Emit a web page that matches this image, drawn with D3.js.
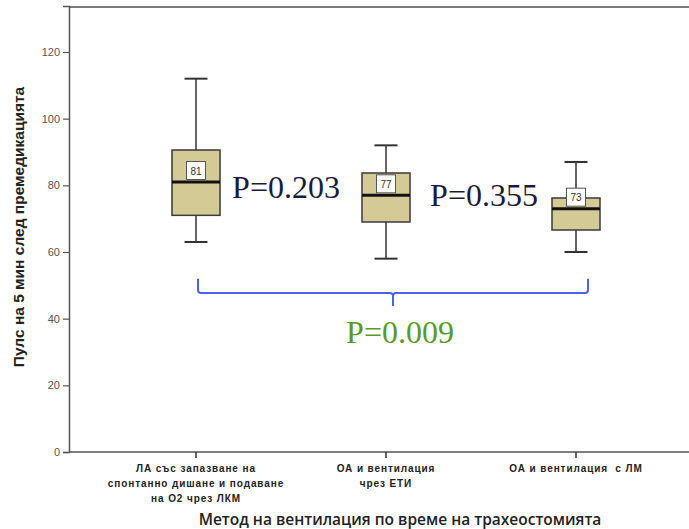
<!DOCTYPE html>
<html>
<head>
<meta charset="utf-8">
<script src="https://cdn.jsdelivr.net/npm/d3@7"></script>
<style>
  body { margin: 0; background: #fff; }
</style>
</head>
<body>
<div id="chart"></div>
<script>
// box plot values
var categories = ["g1", "g2", "g3"];
var categoryLines = [
    ["ЛА със запазване на", "спонтанно дишане и подаване", "на О2 чрез ЛКМ"],
    ["ОА и вентилация", "чрез ЕТИ"],
    ["ОА и вентилация  с ЛМ"]
];
var whiskerLow = [63, 58, 60];
var q1 = [71, 69, 66.6];
var medians = [81, 77, 73];
var q3 = [90.6, 83.7, 76.2];
var whiskerHigh = [112, 92, 87];
var yTicks = [0, 20, 40, 60, 80, 100, 120];
var pValues = ["P=0.203", "P=0.355", "P=0.009"];

var W = 689, H = 529;
var margin = {left: 69, top: 6, right: 0, bottom: 77};

var svg = d3.select("#chart").append("svg")
    .attr("width", W)
    .attr("height", H);

var x = d3.scaleBand()
    .domain(categories)
    .range([101, 671])
    .padding(0);

var y = d3.scaleLinear()
    .domain([0, 133.8])
    .range([H - margin.bottom, margin.top]);

var bw = 48, capW = 23;

// frame
svg.append("line")
    .attr("x1", margin.left).attr("x2", W)
    .attr("y1", margin.top + 1).attr("y2", margin.top + 1)
    .attr("stroke", "#7a7a7a").attr("stroke-width", 2);

// y axis
var yAxis = svg.append("g")
    .attr("transform", "translate(" + margin.left + ",0)")
    .call(d3.axisLeft(y).tickValues(yTicks).tickSize(6).tickPadding(3));
yAxis.select(".domain").attr("stroke", "#555").attr("stroke-width", 1.5);
yAxis.selectAll(".tick line").attr("stroke", "#555").attr("stroke-width", 1.2);
yAxis.selectAll(".tick text")
    .attr("fill", "#555")
    .style("font-family", "Arial, 'Liberation Sans', sans-serif")
    .style("font-size", "11px");

// x axis
var xAxis = svg.append("g")
    .attr("transform", "translate(0," + y(0) + ")")
    .call(d3.axisBottom(x).tickSize(6).tickFormat(""));
xAxis.select(".domain").attr("d", "M" + margin.left + ",0H" + W).attr("stroke", "#555").attr("stroke-width", 1.5);
xAxis.selectAll(".tick line").attr("stroke", "#333").attr("stroke-width", 1.5);

// category labels
categories.forEach(function (c, i) {
    var t = svg.append("text")
        .attr("text-anchor", "middle")
        .attr("fill", "#222")
        .style("font-family", "Arial, 'Liberation Sans', sans-serif")
        .style("font-size", "10px")
        .style("font-weight", "bold")
        .style("letter-spacing", "0.9px")
        .style("white-space", "pre");
    categoryLines[i].forEach(function (line, j) {
        t.append("tspan")
            .attr("x", x(c) + x.bandwidth() / 2)
            .attr("y", y(0) + 20 + j * 15)
            .text(line);
    });
});

// axis titles
svg.append("text")
    .attr("x", 400).attr("y", 525)
    .attr("text-anchor", "middle")
    .attr("fill", "#222")
    .style("font-family", "'Open Sans', sans-serif")
    .style("font-size", "15.5px")
    .style("font-weight", "600")
    .text("Метод на вентилация по време на трахеостомията");

svg.append("text")
    .attr("transform", "translate(24," + 227 + ") rotate(-90)")
    .attr("text-anchor", "middle")
    .attr("fill", "#222")
    .style("font-family", "Arial, 'Liberation Sans', sans-serif")
    .style("font-size", "15.5px")
    .style("font-weight", "bold")
    .text("Пулс на 5 мин след премедикацията");

// boxes
var g = svg.selectAll(".box")
    .data(categories)
    .enter().append("g")
    .attr("class", "box")
    .attr("transform", function (d) { return "translate(" + (x(d) + x.bandwidth() / 2) + ",0)"; });

g.append("line")
    .attr("x1", 0).attr("x2", 0)
    .attr("y1", function (d, i) { return y(whiskerHigh[i]); })
    .attr("y2", function (d, i) { return y(whiskerLow[i]); })
    .attr("stroke", "#333").attr("stroke-width", 1.5);

g.append("line")
    .attr("x1", -capW / 2).attr("x2", capW / 2)
    .attr("y1", function (d, i) { return y(whiskerHigh[i]); })
    .attr("y2", function (d, i) { return y(whiskerHigh[i]); })
    .attr("stroke", "#333").attr("stroke-width", 2);

g.append("line")
    .attr("x1", -capW / 2).attr("x2", capW / 2)
    .attr("y1", function (d, i) { return y(whiskerLow[i]); })
    .attr("y2", function (d, i) { return y(whiskerLow[i]); })
    .attr("stroke", "#333").attr("stroke-width", 2);

g.append("rect")
    .attr("x", -bw / 2).attr("width", bw)
    .attr("y", function (d, i) { return y(q3[i]); })
    .attr("height", function (d, i) { return y(q1[i]) - y(q3[i]); })
    .attr("fill", "#d3ca96")
    .attr("stroke", "#3a3a3a").attr("stroke-width", 1.5);

g.append("line")
    .attr("x1", -bw / 2).attr("x2", bw / 2)
    .attr("y1", function (d, i) { return y(medians[i]); })
    .attr("y2", function (d, i) { return y(medians[i]); })
    .attr("stroke", "#111").attr("stroke-width", 3);

// median labels
g.append("rect")
    .attr("x", -9.5).attr("width", 19)
    .attr("y", function (d, i) { return y(medians[i]) - 20.5; })
    .attr("height", 18)
    .attr("fill", "#fff")
    .attr("stroke", "#555").attr("stroke-width", 1);

g.append("text")
    .attr("text-anchor", "middle")
    .attr("y", function (d, i) { return y(medians[i]) - 7.5; })
    .attr("fill", "#333")
    .style("font-family", "Arial, 'Liberation Sans', sans-serif")
    .style("font-size", "10px")
    .text(function (d, i) { return medians[i]; });

// p-value annotations
var cx = function (i) { return x(categories[i]) + x.bandwidth() / 2; };

svg.append("text")
    .attr("x", (cx(0) + cx(1)) / 2 - 5).attr("y", y(76.2))
    .attr("text-anchor", "middle")
    .attr("fill", "#1b1b3e")
    .style("font-family", "'Liberation Serif', 'Times New Roman', serif")
    .style("font-size", "32px")
    .text(pValues[0]);

svg.append("text")
    .attr("x", (cx(1) + cx(2)) / 2 + 3).attr("y", y(73.8))
    .attr("text-anchor", "middle")
    .attr("fill", "#1b1b3e")
    .style("font-family", "'Liberation Serif', 'Times New Roman', serif")
    .style("font-size", "32px")
    .text(pValues[1]);

// bracket across all groups
var bx0 = cx(0) + 2, bx1 = cx(2) + 12, bm = (bx0 + bx1) / 2;
var by0 = y(52), by1 = y(47.7), by2 = y(43.8);
svg.append("path")
    .attr("d", "M" + bx0 + "," + by0 + "V" + (by1 - 3) + "Q" + bx0 + "," + by1 + " " + (bx0 + 3) + "," + by1 +
        "H" + (bm - 3) + "Q" + bm + "," + by1 + " " + bm + "," + (by1 + 3) + "V" + by2 +
        "M" + bm + "," + (by1 + 3) + "Q" + bm + "," + by1 + " " + (bm + 3) + "," + by1 +
        "H" + (bx1 - 3) + "Q" + bx1 + "," + by1 + " " + bx1 + "," + (by1 - 3) + "V" + by0)
    .attr("fill", "none")
    .attr("stroke", "#4f5ff2")
    .attr("stroke-width", 2);

svg.append("text")
    .attr("x", bm + 7).attr("y", y(32.7))
    .attr("text-anchor", "middle")
    .attr("fill", "#5a9a24")
    .style("font-family", "'Liberation Serif', 'Times New Roman', serif")
    .style("font-size", "32px")
    .text(pValues[2]);
</script>
</body>
</html>
